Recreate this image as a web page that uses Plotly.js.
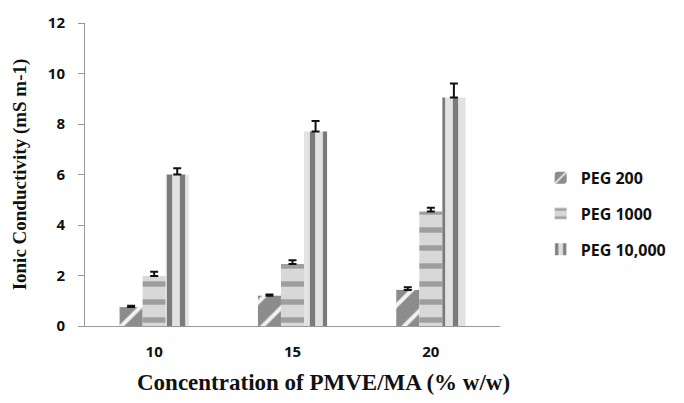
<!DOCTYPE html>
<html>
<head>
<meta charset="utf-8">
<script src="https://cdn.plot.ly/plotly-3.0.1.min.js"></script>
<style>html,body{margin:0;padding:0;background:#fff;}#chart{width:684px;height:403px;}</style>
</head>
<body>
<div id="chart"></div>
<script>
const categories = ["10", "15", "20"];
const seriesNames = ["PEG 200", "PEG 1000", "PEG 10,000"];
const peg200 = [0.75, 1.2, 1.43];
const peg200Err = [0.05, 0.05, 0.1];
const peg1000 = [1.98, 2.46, 4.53];
const peg1000Err = [0.17, 0.14, 0.15];
const peg10000 = [6.0, 7.7, 9.05];
const peg10000Err = [0.25, 0.42, 0.55];
const xTitle = "Concentration of PMVE/MA (% w/w)";
const yTitle = "Ionic Conductivity (mS m-1)";

const values = [peg200, peg1000, peg10000];
const errs = [peg200Err, peg1000Err, peg10000Err];
const fills = ["#9a9a9a", "#c4c4c4", "#d0d0d0"];
const patterns = [
  {shape: "/", fgcolor: "#f2f2f2", bgcolor: "#8c8c8c", size: 20, solidity: 0.2},
  {shape: "-", fgcolor: "#9e9e9e", bgcolor: "#d8d8d8", size: 18, solidity: 0.3},
  {shape: "|", fgcolor: "#7a7a7a", bgcolor: "#e2e2e2", size: 13, solidity: 0.4}
];

const traces = seriesNames.map((name, i) => ({
  type: "bar",
  name: name,
  legendgroup: "g" + i,
  x: categories,
  y: values[i],
  marker: {color: fills[i], line: {width: 0}, pattern: patterns[i]},
  error_y: {type: "data", symmetric: false, array: errs[i], arrayminus: errs[i].map(() => 0),
            color: "#111", thickness: 2, width: 4},
  hoverinfo: "skip"
}));

const tickFont = {size: 15, family: "Open Sans, sans-serif", color: "#111", weight: "bold"};

const layout = {
  width: 684, height: 403,
  margin: {l: 85, r: 141, t: 23, b: 77},
  paper_bgcolor: "#fff", plot_bgcolor: "#fff",
  barmode: "group", bargap: 0.5, bargroupgap: 0,
  font: {family: "Open Sans, sans-serif", color: "#111"},
  xaxis: {
    type: "category",
    showline: true, linecolor: "#999", linewidth: 1,
    ticks: "", showgrid: false, zeroline: false,
    ticklabelstandoff: 12,
    tickfont: tickFont
  },
  yaxis: {
    range: [0, 12], dtick: 2,
    showline: true, linecolor: "#999", linewidth: 1,
    ticks: "outside", ticklen: 6, tickcolor: "#999",
    showgrid: false, zeroline: false,
    ticklabelstandoff: 10,
    tickfont: tickFont,
    title: {text: yTitle, standoff: 16,
            font: {family: "Liberation Serif, serif", size: 19, color: "#111", weight: "bold"}}
  },
  annotations: [{
    text: xTitle, xref: "paper", yref: "paper",
    x: 0.575, y: -0.185, xanchor: "center", yanchor: "middle", showarrow: false,
    font: {family: "Liberation Serif, serif", size: 23, color: "#111", weight: "bold"}
  }],
  legend: {
    x: 1.098, y: 0.545, xanchor: "left", yanchor: "top",
    traceorder: "grouped", tracegroupgap: 12,
    font: {size: 16, family: "Open Sans, sans-serif", color: "#111", weight: "bold"},
    itemwidth: 30
  },
  showlegend: true
};

Plotly.newPlot("chart", traces, layout, {displayModeBar: false, staticPlot: true});
</script>
</body>
</html>
